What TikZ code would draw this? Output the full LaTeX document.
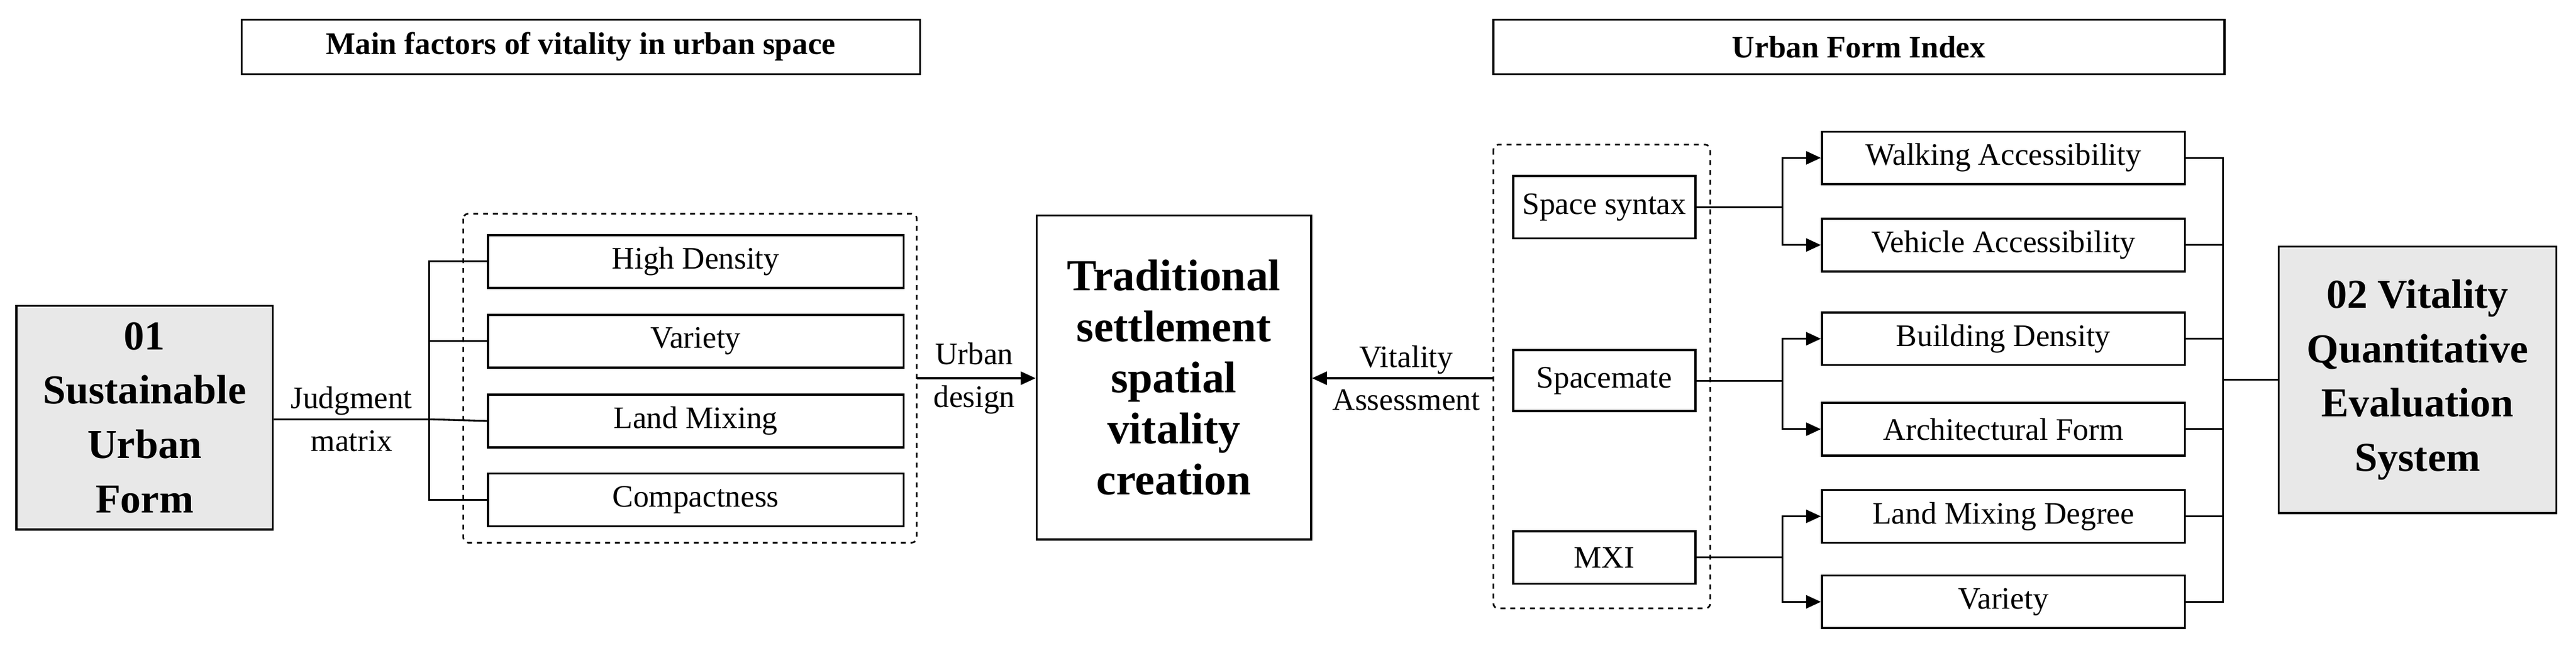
\documentclass[tikz,border=0pt]{standalone}
\usepackage{fontspec}
\setmainfont{Liberation Serif}
\usetikzlibrary{arrows.meta}
\tikzset{
  bx/.style={draw,line width=1.3pt,minimum height=32pt,inner sep=0pt,font=\fontsize{19}{21}\selectfont},
  gbx/.style={draw,line width=1.3pt,fill=gray!18,inner sep=0pt,align=center,font=\bfseries\fontsize{25}{33}\selectfont},
  ttl/.style={draw,line width=1.2pt,inner sep=0pt,font=\bfseries\fontsize{19}{21}\selectfont},
  dbox/.style={draw,dashed,line width=1pt,rounded corners=3pt},
  ln/.style={line width=1.1pt},
  ar/.style={line width=1.1pt,-{Triangle[length=9pt,width=8pt]}},
  lab/.style={align=center,font=\fontsize{19}{26}\selectfont,inner sep=1pt}
}
\begin{document}
\begin{tikzpicture}[x=1pt,y=-1pt]
\useasboundingbox (0,0) rectangle (1568,398);
\node[ttl,minimum width=413pt,minimum height=33pt] (t1) at (353.5,28.5) {Main factors of vitality in urban space};
\node[ttl,minimum width=445pt,minimum height=33pt] (t2) at (1131.5,28.5) {Urban Form Index};
% left
\node[gbx,minimum width=156pt,minimum height=136pt] (s01) at (88,254) {01\\Sustainable\\Urban\\Form};
\draw[dbox] (282,130) rectangle (558,330);
\coordinate (dl) at (558,230);
\node[bx,minimum width=253pt] (hd) at (423.5,159) {High Density};
\node[bx,minimum width=253pt] (va) at (423.5,207.5) {Variety};
\node[bx,minimum width=253pt] (lm) at (423.5,256) {Land Mixing};
\node[bx,minimum width=253pt] (cp) at (423.5,304) {Compactness};
\draw[ln] (hd.west) -- ++(-35,0) coordinate (bt) |- (cp.west);
\draw[ln] (va.west) -- ++(-35,0);
\draw[ln] (s01.east |- 0,255) -- (262,255) -- (lm.west);
\node[lab] at (214,255) {Judgment\\matrix};
% center
\node[draw,line width=1.3pt,minimum width=167pt,minimum height=197pt,align=center,inner sep=0pt,font=\bfseries\fontsize{27}{31}\selectfont] (c) at (714.5,229.5) {Traditional\\settlement\\spatial\\vitality\\creation};
\draw[ar] (dl) -- (c.west |- dl);
\node[lab] at (593,230) {Urban\\design};
% right
\draw[dbox] (909,88) rectangle (1041,370);
\coordinate (dr) at (909,230);
\draw[ar] (dr) -- (c.east |- dr);
\node[lab] at (856,230) {Vitality\\Assessment};
\node[bx,minimum width=111pt,minimum height=38pt] (ss) at (976.5,126) {Space syntax};
\node[bx,minimum width=111pt,minimum height=37pt] (sm) at (976.5,231.5) {Spacemate};
\node[bx,minimum width=111pt,minimum height=32pt] (mx) at (976.5,339) {MXI};
\node[bx,minimum width=221pt] (wa) at (1219.5,96) {Walking Accessibility};
\node[bx,minimum width=221pt] (vh) at (1219.5,149) {Vehicle Accessibility};
\node[bx,minimum width=221pt] (bd) at (1219.5,206) {Building Density};
\node[bx,minimum width=221pt] (af) at (1219.5,261) {Architectural Form};
\node[bx,minimum width=221pt] (ld) at (1219.5,314) {Land Mixing Degree};
\node[bx,minimum width=221pt] (vr) at (1219.5,366) {Variety};
\foreach \s/\a/\b in {ss/wa/vh, sm/bd/af, mx/ld/vr}{
  \draw[ln] (\s.east) -- (1085,0 |- \s.east);
  \draw[ar] (1085,0 |- \s.east) |- (\a.west);
  \draw[ar] (1085,0 |- \s.east) |- (\b.west);
}
\node[gbx,minimum width=169pt,minimum height=162pt] (s02) at (1471.5,231) {02 Vitality\\Quantitative\\Evaluation\\System};
\draw[ln] (wa.east) -- (1353,96) |- (vr.east);
\foreach \n in {vh,bd,af,ld}{ \draw[ln] (\n.east) -- (1353,0 |- \n.east); }
\draw[ln] (1353,0 |- s02.west) -- (s02.west);
\end{tikzpicture}
\end{document}
